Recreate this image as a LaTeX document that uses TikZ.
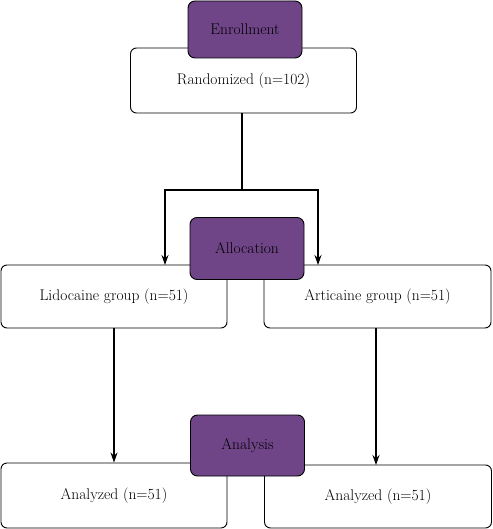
\documentclass[tikz,border=0pt]{standalone}
\usetikzlibrary{arrows.meta}
\definecolor{stagepurple}{RGB}{111,69,136}
\begin{document}
\begin{tikzpicture}[x=1pt,y=-1pt,
    box/.style={draw,rounded corners=6pt,fill=white,line width=0.9pt,font=\fontsize{15.5}{18}\selectfont},
    stage/.style={draw,rounded corners=7pt,fill=stagepurple,line width=0.9pt,minimum width=114pt,font=\fontsize{15.5}{18}\selectfont},
    arr/.style={-{Stealth[length=10pt,width=7pt]},line width=1.2pt}]
    \useasboundingbox (0,0) rectangle (492,529);

    % Participant boxes
    \node[box,minimum width=226pt,minimum height=65pt] (rand) at (243.5,80.5) {Randomized (n=102)};
    \node[box,minimum width=226pt,minimum height=63pt] (lido) at (114,296.5) {Lidocaine group (n=51)};
    \node[box,minimum width=227pt,minimum height=63pt] (art) at (377.5,296.5) {Articaine group (n=51)};
    \node[box,minimum width=226pt,minimum height=65pt] (ana1) at (114,495.5) {Analyzed (n=51)};
    \node[box,minimum width=227pt,minimum height=63pt] (ana2) at (378,496.5) {Analyzed (n=51)};

    % Split points
    \coordinate (split) at (242,190);
    \coordinate (lidoin) at (165,265);
    \coordinate (artin) at (318,265);

    % Arrows
    \draw[line width=1.2pt] (rand.south -| split) -- (split);
    \draw[arr] (split) -| (lidoin);
    \draw[arr] (split) -| (artin);
    \draw[arr] (lido) -- (ana1.north);
    \draw[arr] (art.south -| 376,0) -- (376,465);

    % Stage labels
    \node[stage,minimum height=57pt] (enroll) at (245,29.5) {Enrollment};
    \node[stage,minimum height=62pt] (alloc) at (247,248.5) {Allocation};
    \node[stage,minimum height=61pt] (analysis) at (247.5,445.5) {Analysis};
  \end{tikzpicture}
\end{document}
